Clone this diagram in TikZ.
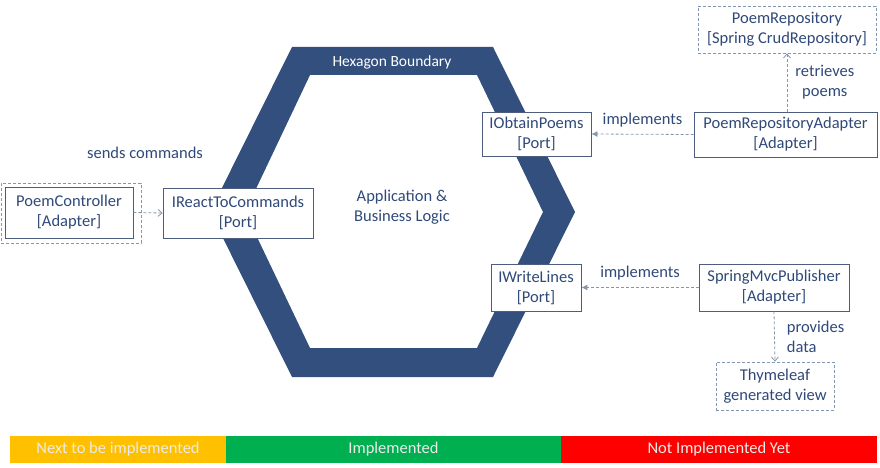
\documentclass[tikz,border=0pt]{standalone}
\usepackage{fontspec}
\setmainfont{Carlito}
\usepackage{xcolor}
\usetikzlibrary{arrows.meta}

\definecolor{hexblue}{RGB}{50,79,125}
\definecolor{textblue}{RGB}{47,73,120}
\definecolor{boxline}{RGB}{76,93,125}
\definecolor{arrowgray}{RGB}{132,151,176}
\definecolor{nextorange}{RGB}{255,192,0}
\definecolor{donegreen}{RGB}{0,176,80}
\definecolor{notred}{RGB}{255,0,0}

\begin{document}
\begin{tikzpicture}[x = 1pt, y = -1pt,
        every node/.style = {text = textblue, font = \fontsize{16.5}{20}\selectfont, align = center, inner sep = 0pt},
        portbox/.style = {draw = boxline, fill = white, line width = 0.8pt},
        framebox/.style = {draw = arrowgray, dash pattern = on 3pt off 2pt, line width = 0.8pt, fill = white},
        dep/.style = {draw = arrowgray, dash pattern = on 3pt off 2pt, line width = 0.8pt},
        legend/.style = {text = white!92!black, inner sep = 0pt}]
        \useasboundingbox (0,0) rectangle (880,468);

        % Hexagon
        \fill[hexblue, even odd rule]
            (210,212) -- (292,47) -- (493,47) -- (575,212) -- (493,377) -- (292,377) -- cycle
            (245,212) -- (310,75) -- (477,75) -- (543,212) -- (477,348) -- (310,348) -- cycle;
        \node[text = white, font = \fontsize{15.5}{19}\selectfont] (boundary) at (392,62) {Hexagon Boundary};
        \node (logic) at (402,207) {Application \&\\Business Logic};

        % Left side
        \node[framebox, minimum width = 140pt, minimum height = 60pt] (ctrlframe) at (71,213) {};
        \node[portbox, minimum width = 128pt, minimum height = 51pt] (ctrl) at (69,212.5) {PoemController\\{}[Adapter]};
        \node[portbox, minimum width = 150pt, minimum height = 50pt] (react) at (238,213) {IReactToCommands\\{}[Port]};
        \draw[dep, -{Straight Barb[length = 4pt, width = 7pt]}] (ctrl.east) -- (react.west);
        \node (sends) at (145,153) {sends commands};

        % Upper right
        \node[portbox, minimum width = 109pt, minimum height = 44pt] (obtain) at (536.5,134) {IObtainPoems\\{}[Port]};
        \node[portbox, minimum width = 183pt, minimum height = 45pt] (repoadapter) at (785.5,134.5) {PoemRepositoryAdapter\\{}[Adapter]};
        \node[framebox, minimum width = 178pt, minimum height = 47pt] (repo) at (787,29.5) {PoemRepository\\{}[Spring CrudRepository]};
        \draw[dep, -{Latex[length = 6pt, width = 6pt]}] (repoadapter.west) -- (obtain.east)
            node[pos = 0.5, above = 7pt] (impl1) {implements};
        \draw[dep, -{Straight Barb[length = 4pt, width = 7pt]}] (repoadapter.north -| repo.south) -- (repo.south)
            node[pos = 0.5, right = 8pt] (retrieves) {retrieves\\poems};

        % Lower right
        \node[portbox, minimum width = 90pt, minimum height = 47pt] (write) at (536,287.5) {IWriteLines\\{}[Port]};
        \node[portbox, minimum width = 150pt, minimum height = 47pt] (publisher) at (774,287.5) {SpringMvcPublisher\\{}[Adapter]};
        \node[framebox, minimum width = 118pt, minimum height = 48pt] (thyme) at (775,386) {Thymeleaf\\generated view};
        \draw[dep, -{Latex[length = 6pt, width = 6pt]}] (publisher.west) -- (write.east)
            node[pos = 0.5, above = 7pt] (impl2) {implements};
        \draw[dep, -{Straight Barb[length = 4pt, width = 7pt]}] (publisher.south) -- (thyme.north)
            node[pos = 0.5, right = 12pt, align = left] (provides) {provides\\data};

        % Legend
        \fill[nextorange] (10,436) rectangle (226,463);
        \fill[donegreen] (226,436) rectangle (561,463);
        \fill[notred] (561,436) rectangle (877,463);
        \node[legend] (next) at (118,449.5) {Next to be implemented};
        \node[legend] (done) at (393.5,449.5) {Implemented};
        \node[legend] (notyet) at (719,449.5) {Not Implemented Yet};
    \end{tikzpicture}
\end{document}
